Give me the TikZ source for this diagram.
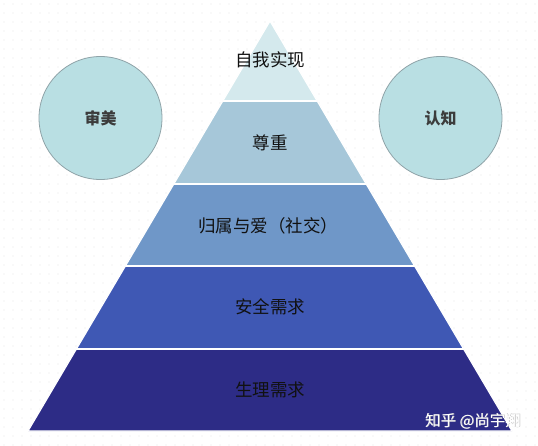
\documentclass[tikz,border=0pt]{standalone}
\usepackage{fontspec}
\setmainfont{Noto Sans CJK SC}
\definecolor{bandA}{HTML}{D4E9ED}
\definecolor{bandB}{HTML}{A6C7D9}
\definecolor{bandC}{HTML}{6F97C8}
\definecolor{bandD}{HTML}{3F58B4}
\definecolor{bandE}{HTML}{2D2C86}
\definecolor{circfill}{HTML}{B9DFE3}
\definecolor{circline}{HTML}{8FA3A8}
\definecolor{dotcol}{HTML}{E6E6E6}
\definecolor{labeltext}{HTML}{111111}
\definecolor{circtext}{HTML}{3C3C3C}
\tikzset{
  band/.style={draw=white, line width=1.2pt, line join=miter},
  levellabel/.style={font=\fontsize{17.5}{19}\selectfont, text=labeltext, inner sep=0pt},
  circlebox/.style={circle, draw=circline, line width=0.8pt, fill=circfill, minimum size=123pt, inner sep=0pt,
     font=\fontsize{16}{18}\selectfont\bfseries, text=circtext}
}
\begin{document}
\begin{tikzpicture}[x=1pt,y=-1pt]
\useasboundingbox (0,0) rectangle (538,445);
\fill[white] (0,0) rectangle (538,445);
% faint dotted background
\foreach \i in {0,...,59}{
  \foreach \j in {0,...,49}{
    \fill[dotcol] ({\i*9+4},{\j*9+4}) circle (0.55);
  }
}
% pyramid bands
\fill[bandE, band] (76.4,349) -- (463.6,349) -- (512,431) -- (28,431) -- cycle;
\fill[bandD, band] (125.4,266) -- (414.6,266) -- (463.6,349) -- (76.4,349) -- cycle;
\fill[bandC, band] (173.8,184) -- (366.2,184) -- (414.6,266) -- (125.4,266) -- cycle;
\fill[bandB, band] (222.8,101) -- (317.2,101) -- (366.2,184) -- (173.8,184) -- cycle;
\fill[bandA, band] (270,21) -- (317.2,101) -- (222.8,101) -- cycle;
\draw[white, line width=2pt] (222.8,101) -- (317.2,101)
  (173.8,184) -- (366.2,184) (125.4,266) -- (414.6,266) (76.4,349) -- (463.6,349);
% labels
\node[levellabel] (l1) at (270,60) {自我实现};
\node[levellabel] (l2) at (270,143) {尊重};
\node[levellabel] (l3) at (268,226) {归属与爱（社交）};
\node[levellabel] (l4) at (270,307) {安全需求};
\node[levellabel] (l5) at (270,390) {生理需求};
% circles
\node[circlebox] (aes) at (100.5,118) {审美};
\node[circlebox] (cog) at (440.5,118) {认知};
% watermark
\node[font=\fontsize{15.5}{17}\selectfont, text=gray!60, inner sep=0pt] (wms) at (473.6,421.6) {知乎 @尚宇翔};
\node[font=\fontsize{15.5}{17}\selectfont, text=white, inner sep=0pt] (wm) at (473,421) {知乎 @尚宇翔};
\end{tikzpicture}
\end{document}
